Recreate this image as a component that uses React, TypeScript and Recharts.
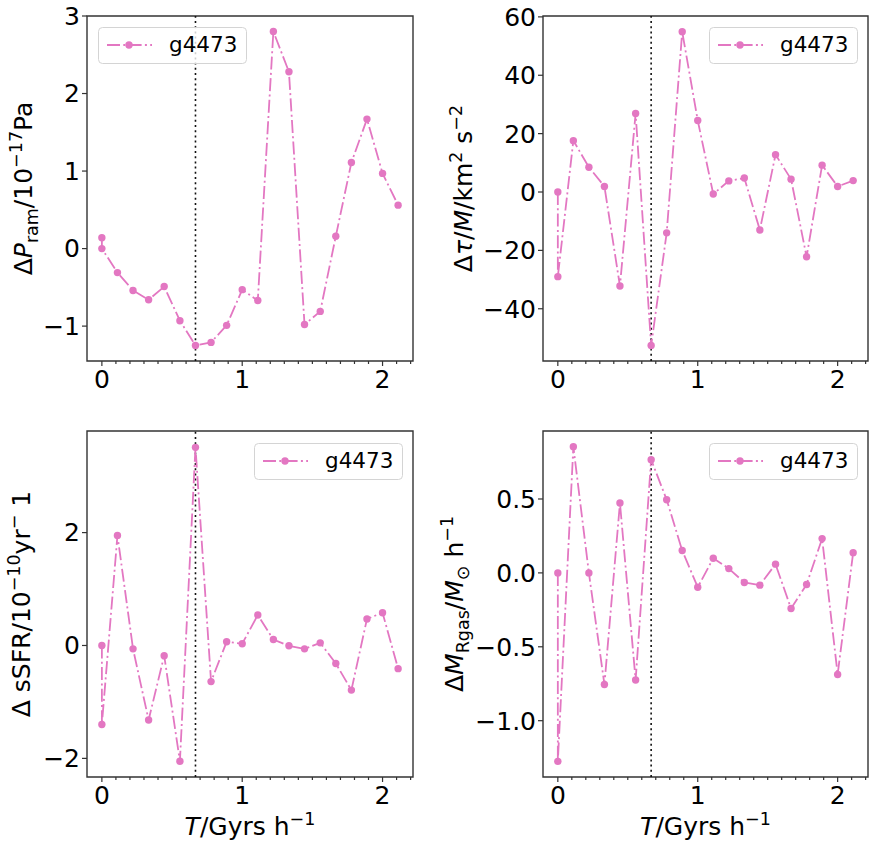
import { Label, Legend, Line, LineChart, ReferenceArea, ReferenceLine, XAxis, YAxis } from 'recharts'

const FONT = '"DejaVu Sans", sans-serif'
const PINK = '#e377c2'
const AXIS = '#333333'

// time since start, first snapshot appears twice
const T = [0, 0, 0.111, 0.222, 0.333, 0.444, 0.556, 0.667, 0.778, 0.889, 1.0, 1.111, 1.222, 1.333, 1.444, 1.556, 1.667, 1.778, 1.889, 2.0, 2.111]
const X_TICKS = [0, 0.1, 0.2, 0.3, 0.4, 0.5, 0.6, 0.7, 0.8, 0.9, 1, 1.1, 1.2, 1.3, 1.4, 1.5, 1.6, 1.7, 1.8, 1.9, 2, 2.1, 2.2]
const X_DOMAIN = [-0.106, 2.217]
const T_EVENT = 0.667

const P_RAM = [0.14, 0.0, -0.31, -0.54, -0.66, -0.49, -0.93, -1.25, -1.21, -0.99, -0.53, -0.67, 2.8, 2.28, -0.98, -0.81, 0.16, 1.11, 1.67, 0.97, 0.56]
const TORQUE = [0, -29, 17.6, 8.5, 1.9, -32.2, 26.9, -52.6, -14, 54.9, 24.5, -0.7, 3.8, 4.8, -13, 12.8, 4.4, -22.2, 9.2, 1.9, 3.9]
const SSFR = [0, -1.4, 1.95, -0.06, -1.32, -0.18, -2.05, 3.51, -0.64, 0.065, 0.03, 0.54, 0.106, -0.006, -0.06, 0.047, -0.32, -0.79, 0.47, 0.58, -0.41]
const M_RGAS = [0, -1.275, 0.854, 0, -0.755, 0.473, -0.725, 0.766, 0.495, 0.151, -0.097, 0.099, 0.029, -0.065, -0.083, 0.059, -0.241, -0.079, 0.232, -0.687, 0.137]

const SERIES_NAME = 'g4473'

type Part = { t: string; s?: 'sup' | 'sub'; i?: boolean }

const LABEL_PRAM: Part[] = [{ t: 'Δ' }, { t: 'P', i: true }, { t: 'ram', s: 'sub' }, { t: '/10' }, { t: '−17', s: 'sup' }, { t: 'Pa' }]
const LABEL_TORQUE: Part[] = [{ t: 'Δ' }, { t: 'τ', i: true }, { t: '/' }, { t: 'M', i: true }, { t: '/km' }, { t: '2', s: 'sup' }, { t: ' s' }, { t: '−2', s: 'sup' }]
const LABEL_SSFR: Part[] = [{ t: 'Δ sSFR/10' }, { t: '−10', s: 'sup' }, { t: 'yr' }, { t: '−', s: 'sup' }, { t: ' 1' }]
const LABEL_MRGAS: Part[] = [{ t: 'Δ' }, { t: 'M', i: true }, { t: 'Rgas', s: 'sub' }, { t: '/' }, { t: 'M', i: true }, { t: '⊙', s: 'sub' }, { t: ' h' }, { t: '−1', s: 'sup' }]
const LABEL_T: Part[] = [{ t: 'T', i: true }, { t: '/Gyrs h' }, { t: '−1', s: 'sup' }]

const minus = (v: number, digits = 0) => v.toFixed(digits).replace('-', '−')

function MathText({ x, y, parts, rotate = false, size = 25 }: { x: number; y: number; parts: Part[]; rotate?: boolean; size?: number }) {
  let prev = 0
  return (
    <text
      x={x}
      y={y}
      textAnchor="middle"
      fontSize={size}
      fill="#000"
      fontFamily={FONT}
      style={{ whiteSpace: 'pre' }}
      transform={rotate ? `rotate(-90, ${x}, ${y})` : undefined}
    >
      {parts.map((p, k) => {
        const shift = p.s === 'sup' ? -0.42 * size : p.s === 'sub' ? 0.22 * size : 0
        const dy = shift - prev
        prev = shift
        return (
          <tspan key={k} dy={dy} fontSize={p.s ? size * 0.7 : size} fontStyle={p.i ? 'italic' : 'normal'}>
            {p.t}
          </tspan>
        )
      })}
    </text>
  )
}

function XTick(props: any) {
  const { x, y, payload } = props
  const major = Number.isInteger(payload.value)
  return (
    <g>
      <line x1={x} x2={x} y1={y} y2={y + (major ? 5 : 3)} stroke={AXIS} strokeWidth={1.2} />
      {major && (
        <text x={x} y={y + 27} textAnchor="middle" fontSize={25} fill="#000" fontFamily={FONT}>
          {payload.value}
        </text>
      )}
    </g>
  )
}

function LegendBox() {
  return (
    <svg width={149} height={37} style={{ display: 'block' }}>
      <rect x={0.5} y={0.5} width={148} height={36} rx={4} fill="#fff" fillOpacity={0.8} stroke="#d4d4d4" />
      <line x1={9} x2={54} y1={18} y2={18} stroke={PINK} strokeWidth={1.8} strokeDasharray="13 3.3 2 3.3" />
      <circle cx={31} cy={18} r={3.7} fill={PINK} />
      <text x={71} y={25} fontSize={21.5} fill="#000" fontFamily={FONT}>
        {SERIES_NAME}
      </text>
    </svg>
  )
}

type PanelProps = {
  left: number
  top: number
  width: number
  height: number
  plot: { l: number; t: number; r: number; b: number }
  values: number[]
  yDomain: number[]
  yTicks: number[]
  yDigits: number
  yLabel: Part[]
  yLabelX: number
  legend: { x: number; y: number }
  xLabelY?: number
}

function Panel(p: PanelProps) {
  const data = T.map((t, i) => ({ t, v: p.values[i] }))
  const yAxisWidth = 80
  const xAxisHeight = p.height - p.plot.b
  const midY = (p.plot.t + p.plot.b) / 2
  const midX = (p.plot.l + p.plot.r) / 2
  return (
    <div style={{ position: 'absolute', left: p.left, top: p.top }}>
      <LineChart
        width={p.width}
        height={p.height}
        data={data}
        margin={{ top: p.plot.t, right: p.width - p.plot.r, bottom: 0, left: p.plot.l - yAxisWidth }}
      >
        <XAxis
          dataKey="t"
          type="number"
          domain={X_DOMAIN}
          ticks={X_TICKS}
          interval={0}
          allowDataOverflow
          axisLine={false}
          tickLine={false}
          tickSize={0}
          tickMargin={0}
          height={xAxisHeight}
          tick={<XTick />}
        >
          {p.xLabelY !== undefined && (
            <Label content={() => <MathText x={midX} y={p.xLabelY as number} parts={LABEL_T} />} />
          )}
        </XAxis>
        <YAxis
          type="number"
          domain={p.yDomain}
          ticks={p.yTicks}
          interval={0}
          allowDataOverflow
          width={yAxisWidth}
          axisLine={false}
          tickLine={{ stroke: AXIS, strokeWidth: 1.2 }}
          tickSize={5}
          tickMargin={2}
          tick={{ fontSize: 25, fill: '#000', fontFamily: FONT }}
          tickFormatter={(v: number) => minus(v, p.yDigits)}
        >
          <Label content={() => <MathText x={p.yLabelX} y={midY} parts={p.yLabel} rotate />} />
        </YAxis>
        <ReferenceArea
          x1={X_DOMAIN[0]}
          x2={X_DOMAIN[1]}
          y1={p.yDomain[0]}
          y2={p.yDomain[1]}
          fill="none"
          fillOpacity={0}
          stroke={AXIS}
          strokeWidth={1.4}
          ifOverflow="visible"
        />
        <ReferenceLine x={T_EVENT} stroke="#111" strokeWidth={1.6} strokeDasharray="2 3.2" />
        <Line
          type="linear"
          dataKey="v"
          name={SERIES_NAME}
          stroke={PINK}
          strokeWidth={1.8}
          strokeDasharray="13 3.3 2 3.3"
          dot={{ r: 3.7, fill: PINK, stroke: PINK, strokeWidth: 0, strokeDasharray: 'none' }}
          isAnimationActive={false}
        />
        <Legend
          layout="horizontal"
          verticalAlign="middle"
          align="center"
          wrapperStyle={{ left: p.legend.x, top: p.legend.y, width: 149, height: 37, right: 'auto', bottom: 'auto' }}
          content={() => <LegendBox />}
        />
      </LineChart>
    </div>
  )
}

export default function App() {
  return (
    <div style={{ position: 'absolute', left: 0, top: 0, width: 875, height: 851, background: '#fff', fontFamily: FONT }}>
      <Panel
        left={0}
        top={0}
        width={437}
        height={415}
        plot={{ l: 87, t: 16, r: 413, b: 361 }}
        values={P_RAM}
        yDomain={[-1.45, 3.0]}
        yTicks={[-1, 0, 1, 2, 3]}
        yDigits={0}
        yLabel={LABEL_PRAM}
        yLabelX={32}
        legend={{ x: 98, y: 27 }}
      />
      <Panel
        left={437}
        top={0}
        width={438}
        height={415}
        plot={{ l: 106, t: 16, r: 431, b: 361 }}
        values={TORQUE}
        yDomain={[-57.9, 60.3]}
        yTicks={[-40, -20, 0, 20, 40, 60]}
        yDigits={0}
        yLabel={LABEL_TORQUE}
        yLabelX={35}
        legend={{ x: 272, y: 27 }}
      />
      <Panel
        left={0}
        top={415}
        width={437}
        height={436}
        plot={{ l: 87, t: 16, r: 413, b: 362 }}
        values={SSFR}
        yDomain={[-2.33, 3.8]}
        yTicks={[-2, 0, 2]}
        yDigits={0}
        yLabel={LABEL_SSFR}
        yLabelX={30}
        legend={{ x: 254, y: 28 }}
        xLabelY={420}
      />
      <Panel
        left={437}
        top={415}
        width={438}
        height={436}
        plot={{ l: 106, t: 16, r: 431, b: 362 }}
        values={M_RGAS}
        yDomain={[-1.381, 0.96]}
        yTicks={[-1, -0.5, 0, 0.5]}
        yDigits={1}
        yLabel={LABEL_MRGAS}
        yLabelX={26}
        legend={{ x: 272, y: 28 }}
        xLabelY={420}
      />
    </div>
  )
}
